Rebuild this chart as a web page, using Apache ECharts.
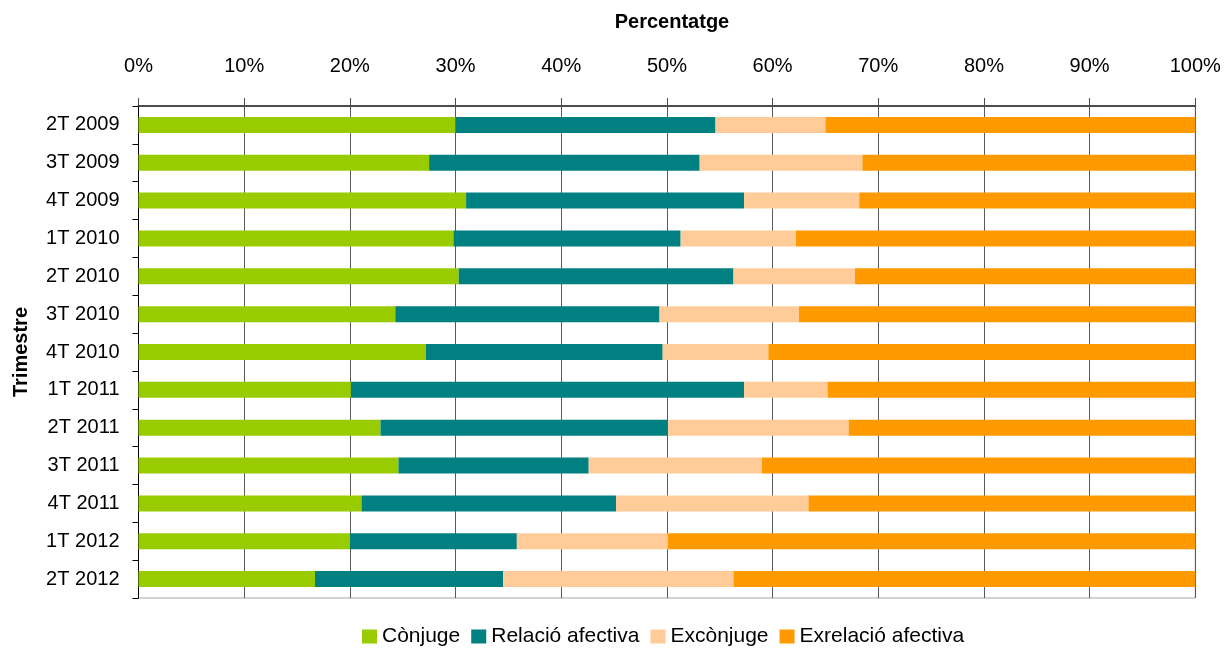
<!DOCTYPE html>
<html>
<head>
<meta charset="utf-8">
<script src="https://cdn.jsdelivr.net/npm/echarts@6/dist/echarts.min.js"></script>
<style>
  html, body { margin: 0; padding: 0; background: #fff; }
  #chart { width: 1228px; height: 653px; }
</style>
</head>
<body>
<div id="chart"></div>
<script>
var FONT = "'Liberation Sans', Arial, sans-serif";

var trimestres = ['2T 2009', '3T 2009', '4T 2009', '1T 2010', '2T 2010', '3T 2010', '4T 2010',
  '1T 2011', '2T 2011', '3T 2011', '4T 2011', '1T 2012', '2T 2012'];

var conjuge = [30.0, 27.5, 31.0, 29.8, 30.3, 24.3, 27.2, 20.1, 22.9, 24.6, 21.1, 20.0, 16.7];
var relacioAfectiva = [24.6, 25.6, 26.3, 21.5, 26.0, 25.0, 22.4, 37.2, 27.2, 18.0, 24.1, 15.8, 17.8];
var exconjuge = [10.4, 15.4, 10.9, 10.9, 11.5, 13.2, 10.0, 7.9, 17.1, 16.4, 18.2, 14.3, 21.8];
var exrelacioAfectiva = [35.0, 31.5, 31.8, 37.8, 32.2, 37.5, 40.4, 34.8, 32.8, 41.0, 36.6, 49.9, 43.7];

var seriesNames = ['Cònjuge', 'Relació afectiva', 'Excònjuge', 'Exrelació afectiva'];
var seriesColors = ['#99cc00', '#008080', '#ffcc99', '#ff9900'];
var seriesData = [conjuge, relacioAfectiva, exconjuge, exrelacioAfectiva];

var myChart = echarts.init(document.getElementById('chart'));

var series = seriesNames.map(function (name, i) {
  return {
    name: name,
    type: 'bar',
    stack: 'total',
    barWidth: 16,
    itemStyle: { color: seriesColors[i] },
    data: seriesData[i]
  };
});

var option = {
  animation: false,
  title: {
    text: 'Percentatge',
    left: 667,
    top: 7,
    textAlign: 'center',
    textStyle: { fontFamily: FONT, fontSize: 20, fontWeight: 'bold', color: '#000' }
  },
  legend: {
    left: 362,
    top: 626,
    padding: 0,
    itemWidth: 15,
    itemHeight: 14,
    itemGap: 11,
    icon: 'rect',
    textStyle: { fontFamily: FONT, fontSize: 21, color: '#000', padding: [0, 0, 0, 0] },
    data: seriesNames
  },
  grid: {
    left: 138.5,
    right: 32.7,
    top: 106,
    bottom: 55,
    show: true,
    borderColor: '#a6a6a6',
    borderWidth: 1,
    containLabel: false
  },
  xAxis: {
    type: 'value',
    position: 'top',
    min: 0,
    max: 100,
    interval: 10,
    axisLine: { show: true, lineStyle: { color: '#4d4d4d', width: 2 } },
    axisTick: { show: true, length: 8, inside: false, lineStyle: { color: '#4d4d4d' } },
    axisLabel: {
      formatter: '{value}%',
      margin: 30,
      fontFamily: FONT,
      fontSize: 20,
      color: '#000'
    },
    splitLine: { show: true, lineStyle: { color: '#595959', width: 1 } }
  },
  yAxis: {
    type: 'category',
    inverse: true,
    data: trimestres,
    name: 'Trimestre',
    nameLocation: 'middle',
    nameRotate: 90,
    nameGap: 107,
    nameTextStyle: { fontFamily: FONT, fontSize: 20, fontWeight: 'bold', color: '#000' },
    axisLine: { show: true, lineStyle: { color: '#000', width: 1 } },
    axisTick: { show: true, length: 6, lineStyle: { color: '#000' } },
    axisLabel: { margin: 19, fontFamily: FONT, fontSize: 20, color: '#000' }
  },
  series: series
};

myChart.setOption(option);
</script>
</body>
</html>
